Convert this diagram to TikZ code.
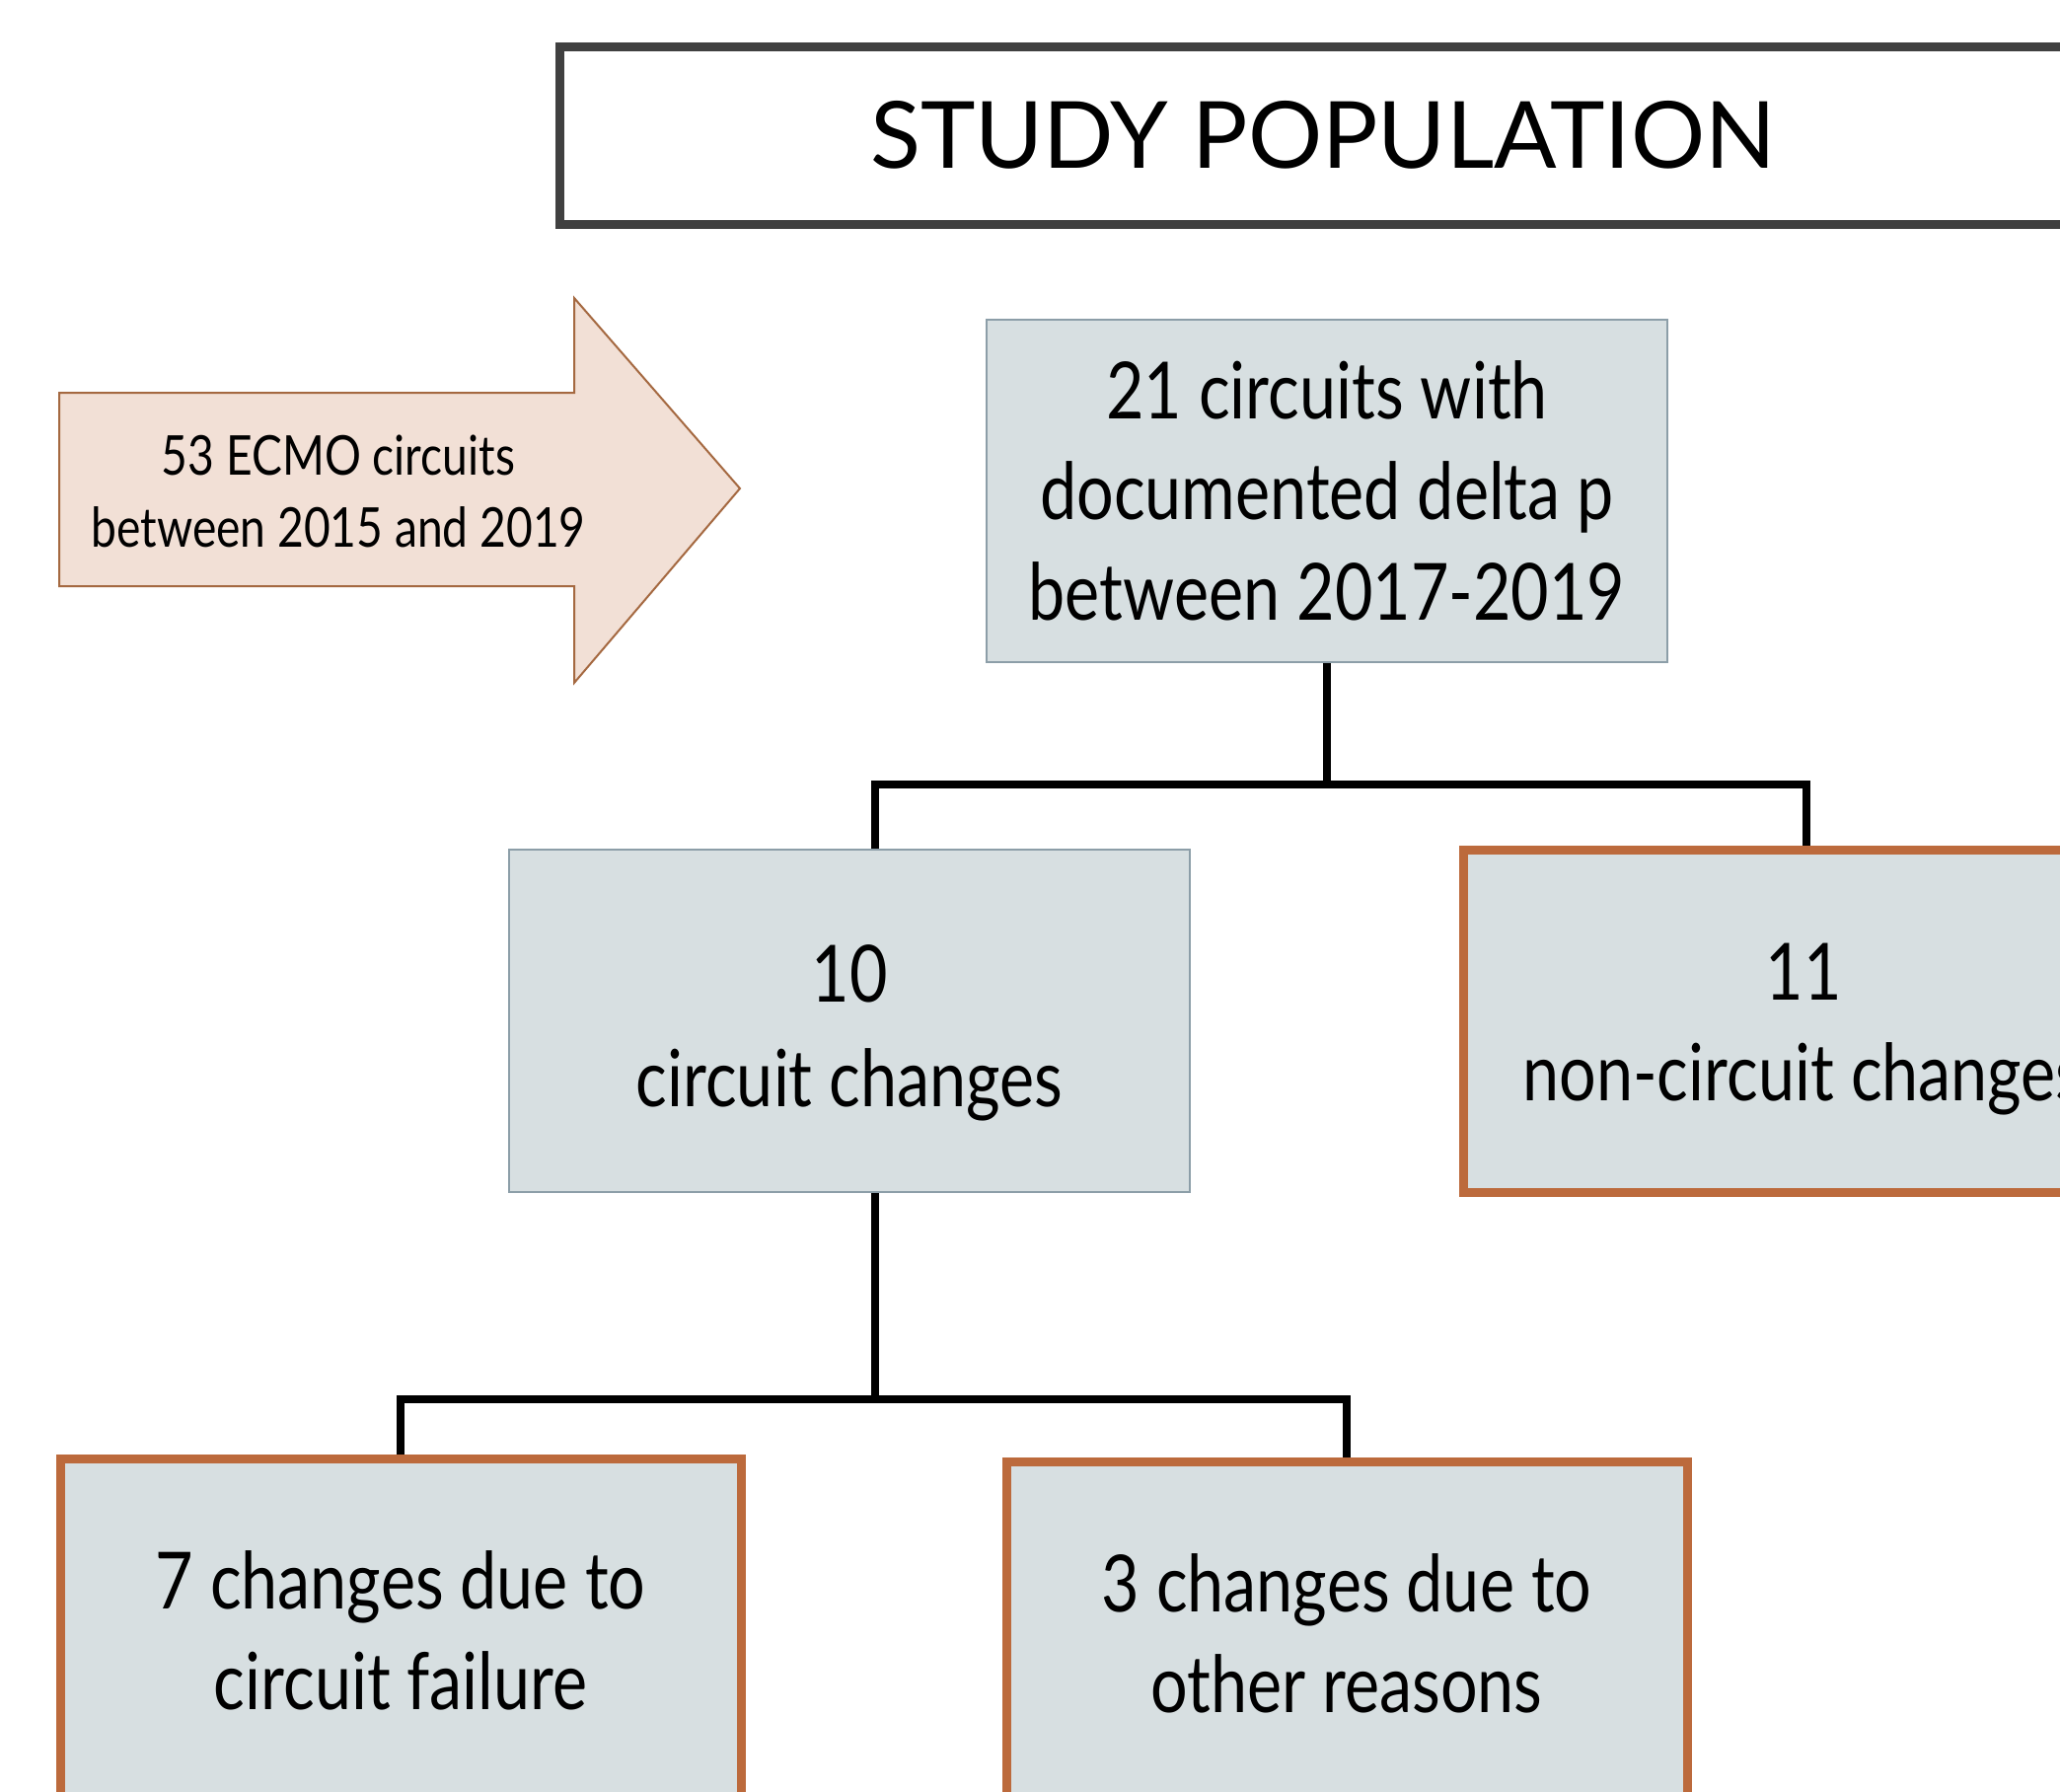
\documentclass[tikz,border=0pt]{standalone}
\usepackage{fontspec}
\setmainfont[FakeStretch=0.83]{Lato}
\newfontfamily\titlefont{Lato}
\definecolor{boxfill}{RGB}{215,223,225}
\definecolor{boxedge}{RGB}{140,158,168}
\definecolor{rust}{RGB}{188,106,60}
\definecolor{peach}{RGB}{242,224,214}
\definecolor{peachedge}{RGB}{165,105,65}
\definecolor{titleedge}{RGB}{64,64,64}
\begin{document}
\begin{tikzpicture}[x=0.5pt,y=-0.5pt,
  box/.style={draw=boxedge, line width=1pt, fill=boxfill, minimum width=345pt,
    minimum height=173.5pt, inner sep=0pt, align=center,
    font=\fontsize{40}{51}\selectfont},
  hlbox/.style={box, draw=rust, line width=4.5pt},
  conn/.style={draw=black, line width=3.7pt}]
\useasboundingbox (0,0) rectangle (2088,1815);
\clip (0,0) rectangle (2088,1815);
% title
\node[draw=titleedge, line width=4.5pt, minimum width=774pt, minimum height=90pt,
  inner sep=0pt, font=\titlefont\fontsize{47}{47}\selectfont] (title) at (1341,137) {STUDY POPULATION};
% source arrow
\draw[fill=peach, draw=peachedge, line width=1pt] (60,398) -- (582,398) -- (582,302) -- (750,495)
  -- (582,692) -- (582,594) -- (60,594) -- cycle;
\node[align=center, font=\fontsize{27.8}{36.6}\selectfont] (src) at (343,498) {53 ECMO circuits\\between 2015 and 2019};
% boxes
\node[box] (n21) at (1345,497.5) {21 circuits with\\documented delta p\\between 2017-2019};
\node[box] (n10) at (861,1034.5) {};
\node[align=center, font=\fontsize{40}{53}\selectfont] (t10) at (861,1047) {10\\circuit changes};
\node[hlbox] (n11) at (1828,1035) {};
\node[align=center, font=\fontsize{40}{51}\selectfont] (t11) at (1828,1043) {11\\non-circuit changes};
\node[hlbox] (n7) at (406,1652) {7 changes due to\\circuit failure};
\node[hlbox] (n3) at (1365,1655) {3 changes due to\\other reasons};
% connectors
\coordinate (j1) at (1345,795);
\coordinate (jl) at (887,795);
\coordinate (jr) at (1831,795);
\coordinate (j2) at (887,1418);
\draw[conn] (n21.south) -- (j1);
\draw[conn] (n10.north -| jl) -- (jl) -- (jr) -- (jr |- n11.north);
\draw[conn] (n10.south -| j2) -- (j2);
\draw[conn] (n7.north) |- (j2) -| (n3.north);
\end{tikzpicture}
\end{document}
